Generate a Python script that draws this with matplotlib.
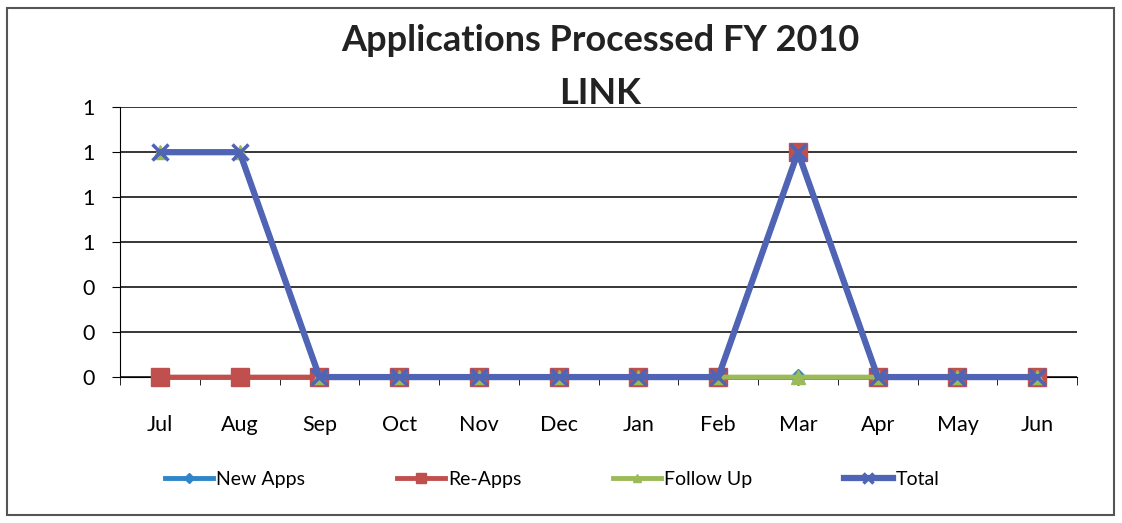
import matplotlib
matplotlib.use("Agg")
import matplotlib.pyplot as plt
from matplotlib.patches import Rectangle
from matplotlib.ticker import FuncFormatter, FixedLocator

months = ["Jul", "Aug", "Sep", "Oct", "Nov", "Dec", "Jan", "Feb", "Mar", "Apr", "May", "Jun"]
new_apps = [0, 0, 0, 0, 0, 0, 0, 0, 0, 0, 0, 0]
re_apps = [0, 0, 0, 0, 0, 0, 0, 0, 1, 0, 0, 0]
follow_up = [1, 1, 0, 0, 0, 0, 0, 0, 0, 0, 0, 0]
total = [1, 1, 0, 0, 0, 0, 0, 0, 1, 0, 0, 0]
y_ticks = [0, 0.2, 0.4, 0.6, 0.8, 1.0, 1.2]

plt.rcParams['font.family'] = ['Lato', 'DejaVu Sans']

fig = plt.figure(figsize=(11.22, 5.23), dpi=100)
ax = fig.add_axes([0.107, 0.279, 0.853, 0.516])

x = list(range(len(months)))
ax.plot(x, new_apps, color='#2E86C8', lw=3.5, marker='D', ms=8, label='New Apps', zorder=3, clip_on=False)
ax.plot(x, re_apps, color='#C0504D', lw=3.5, marker='s', ms=13, label='Re-Apps', zorder=4, clip_on=False)
ax.plot(x, follow_up, color='#9BBB59', lw=3.5, marker='^', ms=10, label='Follow Up', zorder=5, clip_on=False)
ax.plot(x, total, color='#4F64B4', lw=4.5, marker='x', ms=11, mew=2.5, label='Total', zorder=6, clip_on=False)

ax.set_xlim(-0.5, 11.5)
ax.set_ylim(0, 1.2)
ax.set_xticks(x)
ax.set_xticklabels(months, fontsize=15.5)
ax.xaxis.set_minor_locator(FixedLocator([i + 0.5 for i in range(-1, 12)]))
ax.tick_params(axis='x', which='major', length=0, pad=27)
ax.tick_params(axis='x', which='minor', length=6, direction='out', color='black')
ax.set_yticks(y_ticks)
ax.yaxis.set_major_formatter(FuncFormatter(lambda v, p: f"{v:.0f}"))
ax.tick_params(axis='y', labelsize=15.5, length=6, direction='out', pad=12)
ax.grid(axis='y', color='black', lw=1.1)
ax.set_axisbelow(True)
for s in ['top', 'right']:
    ax.spines[s].set_visible(False)
ax.spines['left'].set_color('black')
ax.spines['bottom'].set_color('black')

fig.text(0.535, 0.922, "Applications Processed FY 2010", ha='center', va='center',
         fontsize=26, fontweight='bold', color='#222222')
fig.text(0.535, 0.822, "LINK", ha='center', va='center',
         fontsize=26, fontweight='bold', color='#222222')

leg = fig.legend(loc='center', bbox_to_anchor=(0.492, 0.083), ncol=4, frameon=False,
                 fontsize=14, columnspacing=4.7, handlelength=2.5, handletextpad=0.15,
                 markerscale=0.6)

fig.patches.append(Rectangle((0.006, 0.015), 0.987, 0.97, transform=fig.transFigure,
                             fill=False, edgecolor='#555555', lw=1.5))

fig.savefig("out.png", dpi=100)
